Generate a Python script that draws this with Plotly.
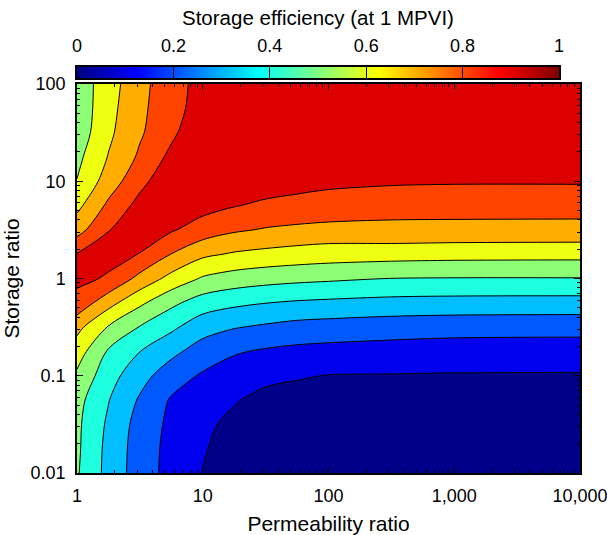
import numpy as np
import plotly.graph_objects as go

# ---- data ----
perm_ratio = [1, 1.778, 3.162, 5.623, 10, 17.78, 31.62, 56.23, 100, 316.2, 1000, 10000]
storage_ratio = [0.01, 0.01778, 0.03162, 0.05623, 0.1, 0.1778, 0.3162, 0.5623,
                 1, 1.778, 3.162, 5.623, 10, 17.78, 31.62, 56.23, 100]

# storage efficiency, one row per storage ratio (bottom -> top), one column per permeability ratio
eff_s0010 = [0.510, 0.368, 0.250, 0.166, 0.098, 0.062, 0.047, 0.035, 0.020, 0.011, 0.010, 0.010]
eff_s0018 = [0.517, 0.371, 0.253, 0.169, 0.106, 0.070, 0.052, 0.040, 0.025, 0.019, 0.018, 0.018]
eff_s0032 = [0.520, 0.383, 0.261, 0.177, 0.121, 0.075, 0.060, 0.050, 0.036, 0.032, 0.031, 0.031]
eff_s0056 = [0.533, 0.404, 0.288, 0.190, 0.149, 0.108, 0.070, 0.065, 0.058, 0.055, 0.054, 0.053]
eff_s0100 = [0.583, 0.439, 0.337, 0.245, 0.188, 0.150, 0.125, 0.108, 0.097, 0.095, 0.093, 0.092]
eff_s0178 = [0.648, 0.488, 0.401, 0.326, 0.255, 0.210, 0.188, 0.175, 0.168, 0.160, 0.152, 0.150]
eff_s0316 = [0.729, 0.593, 0.495, 0.420, 0.340, 0.306, 0.285, 0.266, 0.258, 0.245, 0.238, 0.235]
eff_s0562 = [0.870, 0.736, 0.620, 0.523, 0.452, 0.421, 0.402, 0.388, 0.380, 0.368, 0.363, 0.361]
eff_s1000 = [0.920, 0.891, 0.770, 0.668, 0.589, 0.556, 0.537, 0.525, 0.516, 0.499, 0.496, 0.496]
eff_s1778 = [0.905, 0.925, 0.898, 0.798, 0.720, 0.689, 0.672, 0.659, 0.649, 0.641, 0.635, 0.632]
eff_s3162 = [0.760, 0.898, 0.930, 0.910, 0.855, 0.813, 0.792, 0.776, 0.766, 0.775, 0.772, 0.770]
eff_s5623 = [0.673, 0.820, 0.934, 0.935, 0.935, 0.905, 0.881, 0.882, 0.871, 0.836, 0.837, 0.837]
eff_s10 = [0.603, 0.747, 0.870, 0.973, 0.960, 0.930, 0.952, 0.920, 0.915, 0.914, 0.909, 0.909]
eff_s17 = [0.574, 0.705, 0.816, 0.925, 0.950, 0.945, 0.955, 0.945, 0.945, 0.940, 0.945, 0.950]
eff_s31 = [0.540, 0.680, 0.787, 0.879, 0.980, 0.960, 0.960, 0.955, 0.960, 0.960, 0.965, 0.970]
eff_s56 = [0.533, 0.667, 0.778, 0.863, 0.945, 0.950, 0.955, 0.965, 0.970, 0.975, 0.980, 0.983]
eff_s100 = [0.540, 0.655, 0.771, 0.857, 0.937, 0.950, 0.960, 0.970, 0.975, 0.985, 0.990, 0.990]

efficiency = [eff_s0010, eff_s0018, eff_s0032, eff_s0056, eff_s0100, eff_s0178, eff_s0316,
              eff_s0562, eff_s1000, eff_s1778, eff_s3162, eff_s5623, eff_s10, eff_s17,
              eff_s31, eff_s56, eff_s100]

x_tickvals = [1, 10, 100, 1000, 10000]
x_ticktext = ["1", "10", "100", "1,000", "10,000"]
y_tickvals = [0.01, 0.1, 1, 10, 100]
y_ticktext = ["0.01", "0.1", "1", "10", "100"]
cb_tickvals = [0, 0.2, 0.4, 0.6, 0.8, 1]
cb_ticktext = ["0", "0.2", "0.4", "0.6", "0.8", "1"]

# band colours (one per 0.1 interval, low -> high)
band_colors = ["#000088", "#0000EE", "#0058FF", "#00BEFF", "#1EFFE0",
               "#8CFF74", "#EEFF12", "#FFAE00", "#FF4400", "#DD0000"]

# continuous jet for the colour bar
jet = [[0.0, "rgb(0,0,128)"], [0.125, "rgb(0,0,255)"], [0.375, "rgb(0,255,255)"],
       [0.625, "rgb(255,255,0)"], [0.875, "rgb(255,0,0)"], [1.0, "rgb(128,0,0)"]]

# stepped colourscale so each filled band gets exactly its colour
n = len(band_colors)
step_scale = []
for k, c in enumerate(band_colors):
    lo = max(0.0, (k - 0.5) / (n - 1))
    hi = min(1.0, (k + 0.5) / (n - 1))
    step_scale.append([lo, c])
    step_scale.append([hi, c])

FONT = "Liberation Sans, Arial, sans-serif"

fig = go.Figure()
fig.add_trace(go.Contour(
    x=perm_ratio, y=storage_ratio, z=efficiency,
    autocontour=False,
    contours=dict(start=0.1, end=0.9, size=0.1, coloring="fill"),
    colorscale=step_scale, showscale=False,
    line=dict(color="black", width=1, smoothing=0.9),
    hoverinfo="skip",
))

ramp = np.linspace(0, 1, 300)
fig.add_trace(go.Heatmap(
    x=ramp, y=[0], z=[ramp], colorscale=jet, zmin=0, zmax=1,
    showscale=False, xaxis="x2", yaxis="y2", hoverinfo="skip",
))

H_PLOT = 535 - 67 - 62
fig.update_layout(
    width=607, height=535,
    margin=dict(l=77, r=27, t=67, b=62, autoexpand=False),
    paper_bgcolor="white", plot_bgcolor="white",
    font=dict(family=FONT, size=18, color="black"),
    showlegend=False,
    xaxis=dict(
        type="log", range=[0, 4], domain=[0, 1], anchor="y", automargin=False,
        tickvals=x_tickvals, ticktext=x_ticktext, ticklabeloverflow="allow",
        ticks="inside", ticklen=6, tickcolor="black",
        minor=dict(ticks="inside", ticklen=3, tickcolor="black", dtick="D1", showgrid=False),
        showline=True, linecolor="black", linewidth=1.5, mirror="ticks",
        showgrid=False, zeroline=False,
        tickfont=dict(size=18), ticklabelstandoff=6,
        title=dict(text="Permeability ratio", font=dict(size=21), standoff=12),
    ),
    yaxis=dict(
        type="log", range=[-2, 2], domain=[0, 389 / H_PLOT], anchor="x", automargin=False,
        tickvals=y_tickvals, ticktext=y_ticktext, ticklabeloverflow="allow",
        ticks="inside", ticklen=6, tickcolor="black",
        minor=dict(ticks="inside", ticklen=3, tickcolor="black", dtick="D1", showgrid=False),
        showline=True, linecolor="black", linewidth=1.5, mirror="ticks",
        showgrid=False, zeroline=False,
        tickfont=dict(size=18), ticklabelstandoff=6,
        title=dict(text="Storage ratio", font=dict(size=21), standoff=10),
    ),
    xaxis2=dict(
        domain=[0, (559 - 77) / 503], anchor="y2", range=[0, 1], side="top", automargin=False,
        tickvals=cb_tickvals, ticktext=cb_ticktext, ticklabeloverflow="allow",
        ticks="inside", ticklen=11, tickcolor="black", tickwidth=1,
        showline=True, linecolor="black", linewidth=1.5, mirror=True,
        showgrid=False, zeroline=False, tickfont=dict(size=18), ticklabelstandoff=6,
    ),
    yaxis2=dict(
        domain=[(473 - 78) / H_PLOT, 1], anchor="x2", range=[-0.5, 0.5], automargin=False,
        showticklabels=False, ticks="", showline=True, linecolor="black",
        linewidth=1.5, mirror=True, showgrid=False, zeroline=False,
    ),
    annotations=[dict(
        text="Storage efficiency (at 1 MPVI)", xref="paper", yref="paper",
        x=(317.5 - 77) / 503, y=(473 - 17) / H_PLOT, xanchor="center", yanchor="middle",
        showarrow=False, font=dict(size=20.5),
    )],
)

fig.write_html("out.html")
